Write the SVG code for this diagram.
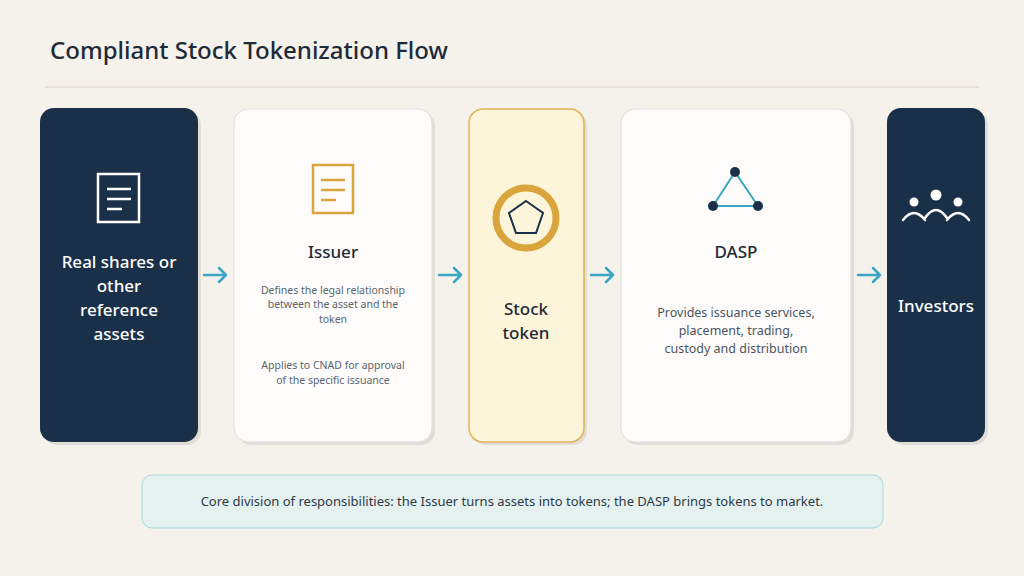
<svg xmlns="http://www.w3.org/2000/svg" width="1024" height="576" viewBox="0 0 1024 576">
<style>
text{font-family:"Noto Sans","Open Sans",sans-serif}
.sh{fill:#e2ded7}
.ttl{font-size:17px;font-weight:500;text-anchor:middle}
.w{fill:#ffffff}
.d{fill:#1e2a38}
.sm{font-size:10.5px;fill:#5a6470;text-anchor:middle}
.md{font-size:12.5px;fill:#4a5462;text-anchor:middle}
.arr{fill:none;stroke:#3aa6c4;stroke-width:2.5;stroke-linecap:round;stroke-linejoin:round}
</style>
<rect width="1024" height="576" fill="#f5f1eb"/>
<text x="50" y="59" font-size="24" font-weight="500" fill="#1e2a38">Compliant Stock Tokenization Flow</text>
<line x1="45" y1="87" x2="979" y2="87" stroke="#d8d4cc" stroke-width="1"/>
<g id="n1">
<rect x="43" y="111" width="158" height="334" rx="14" class="sh"/>
<rect x="40" y="108" width="158" height="334" rx="14" fill="#1a3049"/>
<rect x="98" y="174" width="41" height="48" fill="none" stroke="#fff" stroke-width="2.5"/>
<path d="M107 189h24M107 199h24M107 209h15" stroke="#fff" stroke-width="2.5"/>
<text class="ttl w" x="119" y="268">Real shares or</text>
<text class="ttl w" x="119" y="292">other</text>
<text class="ttl w" x="119" y="316">reference</text>
<text class="ttl w" x="119" y="340">assets</text>
</g>
<g id="n2">
<rect x="237" y="112" width="198" height="333" rx="14" class="sh"/>
<rect x="234" y="109" width="198" height="333" rx="14" fill="#fdfcfa" stroke="#e0ddd8"/>
<rect x="313" y="165" width="40" height="48" fill="none" stroke="#d9a53c" stroke-width="2.5"/>
<path d="M321 180h24M321 190h24M321 200h15" stroke="#d9a53c" stroke-width="2.5"/>
<text class="ttl d" x="333" y="258">Issuer</text>
<text class="sm" x="333" y="294">Defines the legal relationship</text>
<text class="sm" x="333" y="308">between the asset and the</text>
<text class="sm" x="333" y="323">token</text>
<text class="sm" x="333" y="369">Applies to CNAD for approval</text>
<text class="sm" x="333" y="384">of the specific issuance</text>
</g>
<g id="n3">
<rect x="472" y="112" width="115" height="333" rx="14" class="sh"/>
<rect x="469" y="109" width="115" height="333" rx="14" fill="#fdf5d9" stroke="#e0b455" stroke-width="1.5"/>
<circle cx="526" cy="218" r="30" fill="none" stroke="#d9a53c" stroke-width="7"/>
<polygon points="526,201 543,213 536,233 516,233 509,213" fill="none" stroke="#1a3049" stroke-width="2"/>
<text class="ttl d" x="526" y="315">Stock</text>
<text class="ttl d" x="526" y="339">token</text>
</g>
<g id="n4">
<rect x="624" y="112" width="230" height="333" rx="14" class="sh"/>
<rect x="621" y="109" width="230" height="333" rx="14" fill="#fdfcfa" stroke="#e0ddd8"/>
<polygon points="735,172 713,206 758,206" fill="none" stroke="#3aa6c4" stroke-width="2"/>
<circle cx="735" cy="172" r="5" fill="#1a3049"/>
<circle cx="713" cy="206" r="5" fill="#1a3049"/>
<circle cx="758" cy="206" r="5" fill="#1a3049"/>
<text class="ttl d" x="736" y="258">DASP</text>
<text class="md" x="736" y="317">Provides issuance services,</text>
<text class="md" x="736" y="335">placement, trading,</text>
<text class="md" x="736" y="353">custody and distribution</text>
</g>
<g id="n5">
<rect x="890" y="111" width="98" height="334" rx="14" class="sh"/>
<rect x="887" y="108" width="98" height="334" rx="14" fill="#1a3049"/>
<circle cx="914" cy="202" r="4.5" fill="#fff"/>
<circle cx="936" cy="195" r="5.5" fill="#fff"/>
<circle cx="958" cy="202" r="4.5" fill="#fff"/>
<path d="M903 220q11-14 22 0M925 218q11-16 22 0M947 220q11-14 22 0" fill="none" stroke="#fff" stroke-width="2.5" stroke-linecap="round"/>
<text class="ttl w" x="936" y="312">Investors</text>
</g>
<g id="connectors">
<path class="arr" d="M204 275h22M219 268l7 7-7 7"/>
<path class="arr" d="M439 275h22M454 268l7 7-7 7"/>
<path class="arr" d="M591 275h22M606 268l7 7-7 7"/>
<path class="arr" d="M858 275h22M873 268l7 7-7 7"/>
</g>
<g id="note">
<rect x="142" y="475" width="741" height="53" rx="10" fill="#e4f1ef" stroke="#a8d8dc"/>
<text x="512" y="506" font-size="13" fill="#2e3a48" text-anchor="middle">Core division of responsibilities: the Issuer turns assets into tokens; the DASP brings tokens to market.</text>
</g>
</svg>
